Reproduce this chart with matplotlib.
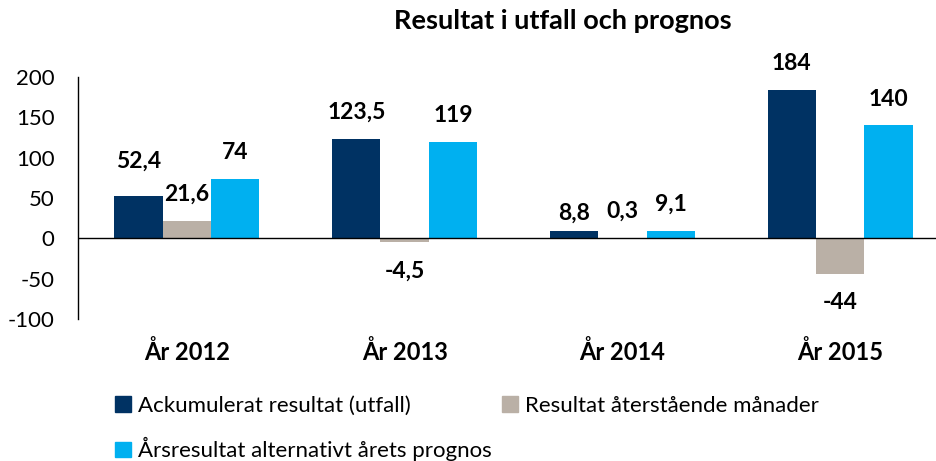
import matplotlib
matplotlib.use("Agg")
import matplotlib.pyplot as plt
import numpy as np
from matplotlib.patches import Patch

plt.rcParams['font.family'] = ['Lato', 'DejaVu Sans']

categories = ["År 2012", "År 2013", "År 2014", "År 2015"]
series_names = ["Ackumulerat resultat (utfall)", "Resultat återstående månader",
                "Årsresultat alternativt årets prognos"]
ackumulerat = [52.4, 123.5, 8.8, 184]
aterstaende = [21.6, -4.5, 0.3, -44]
arsresultat = [74, 119, 9.1, 140]
label_texts = [["52,4", "123,5", "8,8", "184"],
               ["21,6", "-4,5", "0,3", "-44"],
               ["74", "119", "9,1", "140"]]
colors = ["#003263", "#BAB0A6", "#00B0F0"]
yticks = [-100, -50, 0, 50, 100, 150, 200]

fig = plt.figure(figsize=(9.36, 4.61), dpi=100)
ax = fig.add_axes([78/936, 142/461, 1 - 78/936, (319-77)/461])

x = np.arange(len(categories))
w = 0.222
series = [ackumulerat, aterstaende, arsresultat]
extra = [[6, 0, -6, 0], [0, 0, 0, 0], [0, 0, 0, 0]]
for i, (vals, c) in enumerate(zip(series, colors)):
    xs = x + (i - 1) * w
    ax.bar(xs, vals, width=w, color=c, zorder=2)
    for j, (xx, v) in enumerate(zip(xs, vals)):
        off = 19 if v >= 0 else -21
        off += extra[i][j] if v >= 0 else 0
        ax.annotate(label_texts[i][j], (xx, v), xytext=(0, off), textcoords="offset points",
                    ha="center", va="center", fontsize=16.5, fontweight="bold")

ax.set_xlim(-0.5, 3.44)
ax.set_ylim(-100, 200)
ax.set_yticks(yticks)
ax.set_yticklabels([str(t) for t in yticks], fontsize=16)
ax.tick_params(axis='y', length=0, pad=17)
ax.set_xticks([])
for s in ["top", "right", "bottom"]:
    ax.spines[s].set_visible(False)
ax.spines["left"].set_linewidth(1.0)
ax.axhline(0, color="black", linewidth=1.0, zorder=3)

for xx, cat in zip(x, categories):
    ax.annotate(cat, (xx, 0), xycoords=("data", "figure fraction"), xytext=(xx, 1 - 352/461),
                textcoords=("data", "figure fraction"), ha="center", va="center",
                fontsize=17, fontweight="bold")

fig.text(563/936, 1 - 21/461, "Resultat i utfall och prognos", ha="center", va="center",
         fontsize=19.5, fontweight="bold")

handles = [Patch(color=c) for c in colors]
order = [0, 2, 1]
leg = fig.legend([handles[k] for k in order], [series_names[k] for k in order],
                 loc="upper left", bbox_to_anchor=(115/936, 1 - 396/461), ncol=2,
                 frameon=False, fontsize=16, handlelength=0.7, handleheight=0.7,
                 handletextpad=0.35, columnspacing=0.45, labelspacing=0.95,
                 borderpad=0, borderaxespad=0)

fig.savefig("out.png", dpi=100)
